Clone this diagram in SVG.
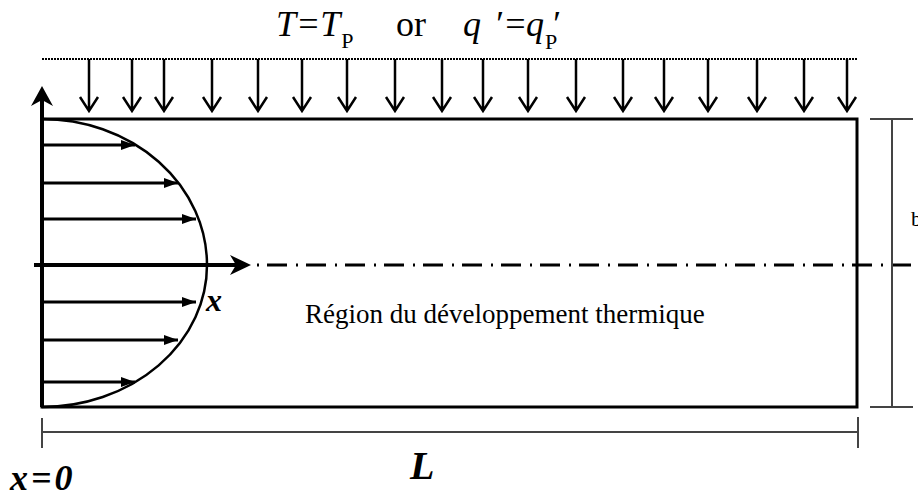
<svg xmlns="http://www.w3.org/2000/svg" width="918" height="497" viewBox="0 0 918 497">
<style>
text{font-family:"Liberation Serif","Times New Roman","Noto Serif","DejaVu Serif",serif;fill:#000}
.ln{stroke:#000;fill:none}
.dn{stroke:#000;stroke-width:2.5;fill:none}
.dim{stroke:#444;stroke-width:2;fill:none}
.it{font-style:italic;font-size:36px}
.sub{font-style:normal;font-size:22px}
</style>
<defs>
<g id="down"><path class="dn" d="M0,59 V111 M-9,97 L0,111 L9,97"/></g>
<marker id="vh" viewBox="0 0 14 10" refX="14" refY="5" markerWidth="14" markerHeight="10" markerUnits="userSpaceOnUse" orient="auto"><path d="M0,0 L14,5 L0,10 Z" fill="#000"/></marker>
</defs>
<rect width="918" height="497" fill="#fff"/>
<g id="title">
<text class="it" x="276" y="36">T=T<tspan class="sub" dx="1" dy="12">P</tspan></text>
<text font-size="36" x="396" y="36">or</text>
<text class="it" x="463" y="36">q<tspan x="494">′</tspan><tspan x="503">=</tspan><tspan x="526">q</tspan><tspan x="551">′</tspan><tspan class="sub" x="545" dy="13">P</tspan></text>
</g>
<g id="heat-flux">
<line x1="42" y1="59" x2="857" y2="59" stroke="#000" stroke-width="2" stroke-dasharray="2 1"/>
<use href="#down" x="89"/><use href="#down" x="132"/><use href="#down" x="164"/><use href="#down" x="212"/>
<use href="#down" x="258"/><use href="#down" x="302"/><use href="#down" x="347"/><use href="#down" x="395"/>
<use href="#down" x="442"/><use href="#down" x="483"/><use href="#down" x="528"/><use href="#down" x="576"/>
<use href="#down" x="623"/><use href="#down" x="664"/><use href="#down" x="708"/><use href="#down" x="757"/>
<use href="#down" x="804"/><use href="#down" x="847"/>
</g>
<g id="channel">
<rect class="ln" x="42" y="119" width="815" height="288" stroke-width="3"/>
<path d="M42,119 A165,146 0 0 1 207,265 A165,142 0 0 1 42,407" class="ln" stroke-width="2.5"/>
</g>
<g id="axes">
<line x1="42" y1="407" x2="42" y2="100" stroke="#000" stroke-width="4"/>
<path d="M42,86 L53,106 L42,100 L31,106 Z" fill="#000"/>
<line x1="34" y1="265" x2="236" y2="265" stroke="#000" stroke-width="4"/>
<path d="M251,265 L230,255 L236,265 L230,275 Z" fill="#000"/>
<line x1="257" y1="265" x2="918" y2="265" stroke="#000" stroke-width="3" stroke-dasharray="2 8 20 9"/>
</g>
<g id="velocity" stroke="#000" stroke-width="3" fill="none">
<line x1="42" y1="145" x2="135" y2="145" marker-end="url(#vh)"/>
<line x1="42" y1="183" x2="178" y2="183" marker-end="url(#vh)"/>
<line x1="42" y1="219" x2="196" y2="219" marker-end="url(#vh)"/>
<line x1="42" y1="302" x2="196" y2="302" marker-end="url(#vh)"/>
<line x1="42" y1="340" x2="178" y2="340" marker-end="url(#vh)"/>
<line x1="42" y1="382" x2="135" y2="382" marker-end="url(#vh)"/>
</g>
<g id="dimensions">
<path class="dim" d="M42,418 V448 M42,432 H858 M858,417 V448"/>
<path class="dim" d="M870,119 H913 M892,119 V407 M870,407 H913"/>
</g>
<g id="labels">
<text font-weight="bold" font-style="italic" font-size="32" x="206" y="311">x</text>
<text font-size="27" x="305" y="323">Région du développement thermique</text>
<text font-weight="bold" font-style="italic" font-size="36" x="10" y="490" letter-spacing="3">x=0</text>
<text font-weight="bold" font-style="italic" font-size="40" x="410" y="479">L</text>
<text font-size="22" x="911" y="226">b</text>
</g>
</svg>
